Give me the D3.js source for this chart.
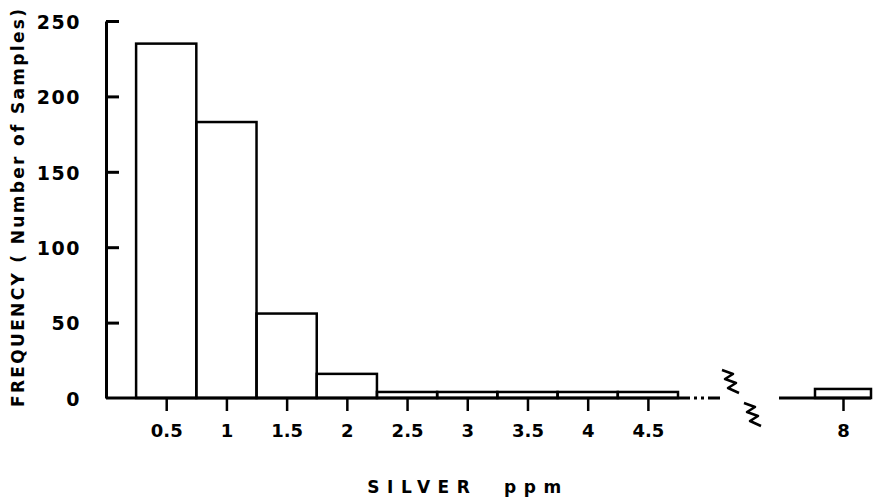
<!DOCTYPE html>
<html>
<head>
<meta charset="utf-8">
<script src="https://cdn.jsdelivr.net/npm/d3@7"></script>
<style>
  body { margin: 0; background: #fff; }
  text { font-family: "DejaVu Sans", sans-serif; font-weight: bold; fill: #000; }
</style>
</head>
<body>
<div id="chart"></div>
<script>
  // bins of silver content (ppm), centred on these values
  const binCenters = [0.5, 1, 1.5, 2, 2.5, 3, 3.5, 4, 4.5, 8];
  const counts = [235, 183, 56, 16, 4, 4, 4, 4, 4, 6];
  const xTicks = [0.5, 1, 1.5, 2, 2.5, 3, 3.5, 4, 4.5, 8];
  const xTickLabels = ['0.5', '1', '1.5', '2', '2.5', '3', '3.5', '4', '4.5', '8'];
  const yTicks = [0, 50, 100, 150, 200, 250];
  const binWidth = 0.5;

  const width = 873, height = 498;

  const svg = d3.select('#chart')
    .append('svg')
    .attr('width', width)
    .attr('height', height);

  // broken axis: 0 - 4.75 then jumps to 7.75
  const x = d3.scaleLinear()
    .domain([0, 4.75, 7.75, 8.25])
    .range([106, 678, 815, 871]);

  const y = d3.scaleLinear()
    .domain([0, 250])
    .range([398, 21]);

  // bars
  svg.selectAll('.bar')
    .data(binCenters)
    .enter()
    .append('rect')
    .attr('class', 'bar')
    .attr('x', d => x(d - binWidth / 2))
    .attr('y', (d, i) => y(counts[i]))
    .attr('width', d => x(d + binWidth / 2) - x(d - binWidth / 2))
    .attr('height', (d, i) => y(0) - y(counts[i]))
    .attr('fill', 'none')
    .attr('stroke', '#000')
    .attr('stroke-width', 2.5);

  // y axis
  const yAxis = svg.append('g')
    .attr('transform', `translate(${x(0)},0)`)
    .call(d3.axisLeft(y).tickValues(yTicks).tickSizeInner(-13).tickSizeOuter(0).tickPadding(25));
  yAxis.select('.domain').attr('stroke-width', 3);
  yAxis.selectAll('.tick line').attr('stroke-width', 3).filter(d => d === 0).remove();
  yAxis.selectAll('.tick text')
    .style('font-size', '19px')
    .attr('letter-spacing', '1.5px')
    .attr('dy', '0.38em');

  // x axis
  const xAxis = svg.append('g')
    .attr('transform', `translate(0,${y(0)})`)
    .call(d3.axisBottom(x).tickValues(xTicks).tickSize(13).tickPadding(13)
      .tickFormat((d, i) => xTickLabels[i]));
  xAxis.select('.domain').remove();
  xAxis.selectAll('.tick line').attr('stroke-width', 2.5);
  xAxis.selectAll('.tick text').style('font-size', '18px');

  // axis line with the break
  const axisY = y(0);
  svg.append('line')
    .attr('x1', x(0)).attr('x2', x(4.75))
    .attr('y1', axisY).attr('y2', axisY)
    .attr('stroke', '#000').attr('stroke-width', 3);
  svg.append('line')
    .attr('x1', x(4.75)).attr('x2', x(4.75) + 46)
    .attr('y1', axisY).attr('y2', axisY)
    .attr('stroke', '#000').attr('stroke-width', 3)
    .attr('stroke-dasharray', '12,4,3,4,3,4,12');
  svg.append('line')
    .attr('x1', x(7.75) - 36).attr('x2', x(8.25))
    .attr('y1', axisY).attr('y2', axisY)
    .attr('stroke', '#000').attr('stroke-width', 3);

  // break marks
  const bx = x(4.75) + 44;
  [[0, -28], [22, 5]].forEach(([dx, dy]) => {
    svg.append('path')
      .attr('d', `M${bx + dx},${axisY + dy} l11,4 l-8,5 l11,4 l-8,5 l11,5`)
      .attr('fill', 'none')
      .attr('stroke', '#000')
      .attr('stroke-width', 2.5)
      .attr('stroke-linejoin', 'round');
  });

  // axis titles
  svg.append('text')
    .attr('transform', 'translate(24,208) rotate(-90)')
    .attr('text-anchor', 'middle')
    .attr('textLength', 398)
    .attr('lengthAdjust', 'spacing')
    .style('font-size', '17px')
    .text('FREQUENCY ( Number of Samples)');

  svg.append('text')
    .attr('x', 468)
    .attr('y', 493)
    .attr('text-anchor', 'middle')
    .attr('letter-spacing', '7.5px')
    .attr('xml:space', 'preserve')
    .style('font-size', '17px')
    .text('SILVER  ppm');
</script>
</body>
</html>
